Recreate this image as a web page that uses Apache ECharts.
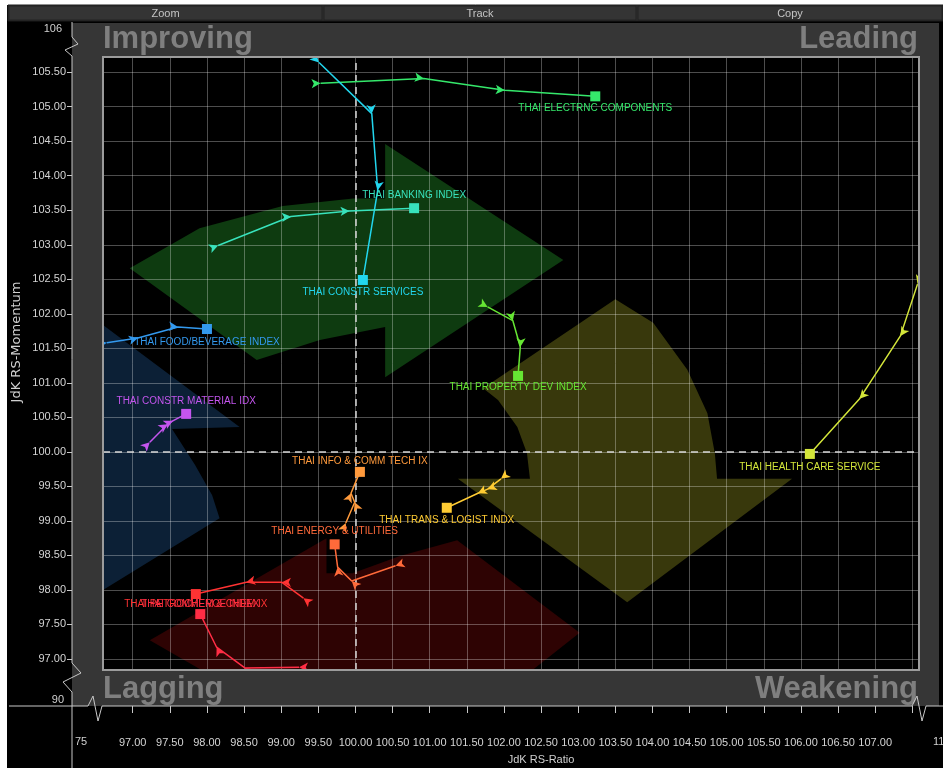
<!DOCTYPE html>
<html><head><meta charset="utf-8">
<script src="https://cdn.jsdelivr.net/npm/echarts@6/dist/echarts.min.js"></script>
<style>
html,body{margin:0;padding:0;background:#fff;overflow:hidden;}
#bg{position:absolute;left:7px;top:5px;width:936px;height:763px;background:#000;}
#c{position:absolute;left:0;top:0;width:943px;height:768px;}
</style></head><body>
<div id="bg"></div><div id="c"></div>
<script>
// ---- tick labels ----
const xTicks = [97,97.5,98,98.5,99,99.5,100,100.5,101,101.5,102,102.5,103,103.5,104,104.5,105,105.5,106,106.5,107,107.5];
const xLabels = [97,97.5,98,98.5,99,99.5,100,100.5,101,101.5,102,102.5,103,103.5,104,104.5,105,105.5,106,106.5,107];
const yTicks = [97,97.5,98,98.5,99,99.5,100,100.5,101,101.5,102,102.5,103,103.5,104,104.5,105,105.5];

// ---- series names ----
const names = ['THAI ELECTRNC COMPONENTS','THAI CONSTR SERVICES','THAI BANKING INDEX','THAI FOOD/BEVERAGE INDEX',
  'THAI CONSTR MATERIAL IDX','THAI PROPERTY DEV INDEX','THAI HEALTH CARE SERVICE','THAI INFO & COMM TECH IX',
  'THAI ENERGY & UTILITIES','THAI PETROCHEM & CHEM IX','THAI COMMERCE INDEX','THAI TRANS & LOGIST INDX'];

// ---- series values [RS-Ratio, RS-Momentum], oldest -> latest ----
const electrnc = [[99.53,105.34],[100.92,105.41],[102.01,105.24],[103.23,105.15]];
const constrServices = [[99.51,105.64],[100.22,104.90],[100.30,103.79],[100.10,102.49]];
const banking = [[98.15,102.99],[99.13,103.41],[99.92,103.49],[100.79,103.53]];
const foodBev = [[96.65,101.58],[97.07,101.65],[97.61,101.81],[98.00,101.78]];
const constrMaterial = [[97.23,100.14],[97.47,100.40],[97.54,100.45],[97.72,100.55]];
const propertyDev = [[101.78,102.10],[102.12,101.90],[102.22,101.52],[102.19,101.10]];
const healthCare = [[107.57,102.43],[107.34,101.68],[106.79,100.77],[106.12,99.97]];
const infoComm = [[99.87,98.97],[99.99,99.27],[99.94,99.40],[100.06,99.71]];
const energy = [[100.54,98.35],[99.95,98.13],[99.76,98.33],[99.72,98.66]];
const petrochem = [[99.30,97.88],[99.01,98.11],[98.53,98.11],[97.85,97.94]];
const commerce = [[99.24,96.88],[98.51,96.87],[98.13,97.17],[97.91,97.65]];
const transLogist = [[101.96,99.61],[101.78,99.46],[101.65,99.40],[101.23,99.19]];

// ---- background rotation arrows (data space) ----
const greenArrow = [[96.96,102.66],[97.90,103.24],[99.02,103.56],[99.97,103.67],[100.40,103.67],[100.40,104.46],[102.80,102.78],[100.40,101.08],[100.40,101.81],[99.52,101.62],[98.67,101.33]];
const yellowArrow = [[103.50,102.21],[104.01,101.87],[104.47,101.19],[104.74,100.56],[104.84,99.98],[104.87,99.61],[105.88,99.61],[103.66,97.82],[101.38,99.61],[102.35,99.61],[102.31,99.98],[102.18,100.36],[101.92,100.75],[101.72,100.92]];
const redArrow = [[103.02,97.38],[101.37,98.72],[100.60,98.49],[99.96,98.24],[99.61,98.24],[99.61,98.75],[97.23,97.27],[99.61,95.80],[99.61,95.90],[100.60,95.97],[102.22,96.70]];
const blueArrow = [[95.75,102.52],[98.44,100.36],[97.53,100.33],[97.84,99.81],[98.07,99.37],[98.17,99.04],[96.60,98.00],[95.75,97.43],[95.21,97.43],[95.21,102.52]];

// ---- styles ----
const NARROW = "'Liberation Sans',Arial,sans-serif";
const seriesValues = [electrnc,constrServices,banking,foodBev,constrMaterial,propertyDev,healthCare,infoComm,energy,petrochem,commerce,transLogist];
const colors = ['#35e86b','#22d6ee','#38e2bc','#3399ee','#c455ee','#66e633','#d4e63a','#ff9a3c','#ff6a3a','#ff3333','#ff2d45','#ffcc33'];
const labelPos = ['bottom','bottom','top','bottom','top','bottom','bottom','top','top','bottom','top','bottom'];
const labelDist = [2,2,3,3,3,1,3,1,3,0,0,2];
const arrowShapes = [greenArrow, yellowArrow, redArrow, blueArrow];
const arrowColors = ['#0e3b10','#38380c','#2e0303','#0c2036'];

const X_MIN=96.6, X_MAX=107.59, Y_MIN=96.84, Y_MAX=105.72;
const GL=103, GT=57, GR=919, GB=670;
const kx=(GR-GL)/(X_MAX-X_MIN), ky=(GB-GT)/(Y_MAX-Y_MIN);
function rot(a,b){const dx=(b[0]-a[0])*kx, dy=(b[1]-a[1])*ky;return Math.atan2(dy,dx)*180/Math.PI-90;}

const chart = echarts.init(document.getElementById('c'), null, {renderer:'canvas'});

const lineSeries = seriesValues.map((vals,si)=>({
  type:'line', name:names[si], silent:true, animation:false, z:5,
  emphasis:{disabled:true},
  lineStyle:{color:colors[si], width:1.5},
  itemStyle:{color:colors[si]},
  data: vals.map((p,i,arr)=> i<arr.length-1
    ? {value:p, symbol:'arrow', symbolSize:[7,9], symbolRotate:rot(p,arr[i+1])}
    : {value:p, symbol:'rect', symbolSize:10,
       label:{show:true, position:labelPos[si], distance:labelDist[si], formatter:names[si],
              color:colors[si], fontSize:10, fontFamily:NARROW}})
}));
lineSeries[0].markLine = {silent:true, symbol:'none', animation:false, label:{show:false},
  lineStyle:{color:'#d8d8d8', type:[7,5], width:1.5}, data:[{xAxis:100},{yAxis:100}]};

const gfx = [];
// toolbar
gfx.push({type:'rect', shape:{x:8,y:5,width:935,height:16}, style:{fill:'#2e2e2e', stroke:'#1c1c1c', lineWidth:1}, z:60});
[[8,323,'Zoom'],[323,637,'Track'],[637,943,'Copy']].forEach(b=>{
  gfx.push({type:'rect', shape:{x:b[0]+1,y:6,width:b[1]-b[0]-2,height:14}, style:{fill:'#343434', stroke:'#222', lineWidth:1}, z:61});
  gfx.push({type:'text', x:(b[0]+b[1])/2, y:13.5, style:{text:b[2], fill:'#c4c4c4', font:"11px "+NARROW, align:'center', verticalAlign:'middle'}, z:62});
});
// gray frame around plot
const FR='#363636';
gfx.push({type:'rect', shape:{x:72,y:23,width:867,height:GT-23}, style:{fill:FR}, z:50});
gfx.push({type:'rect', shape:{x:72,y:GB,width:867,height:706-GB}, style:{fill:FR}, z:50});
gfx.push({type:'rect', shape:{x:72,y:GT,width:GL-72,height:GB-GT}, style:{fill:FR}, z:50});
gfx.push({type:'rect', shape:{x:GR,y:GT,width:939-GR,height:GB-GT}, style:{fill:FR}, z:50});
gfx.push({type:'rect', shape:{x:GL,y:GT,width:GR-GL,height:GB-GT}, style:{fill:null, stroke:'#9c9c9c', lineWidth:2}, z:51});
// quadrant names
const QF = "bold 31px 'Liberation Sans',Arial,sans-serif";
gfx.push({type:'text', x:103, y:39, style:{text:'Improving', fill:'#7f7f7f', font:QF, align:'left', verticalAlign:'middle'}, z:52});
gfx.push({type:'text', x:918, y:39, style:{text:'Leading', fill:'#7f7f7f', font:QF, align:'right', verticalAlign:'middle'}, z:52});
gfx.push({type:'text', x:103, y:689, style:{text:'Lagging', fill:'#7f7f7f', font:QF, align:'left', verticalAlign:'middle'}, z:52});
gfx.push({type:'text', x:918, y:689, style:{text:'Weakening', fill:'#7f7f7f', font:QF, align:'right', verticalAlign:'middle'}, z:52});
// broken axis lines
gfx.push({type:'polyline', shape:{points:[[72,22],[72,37],[78,44],[65,50],[72,56],[72,663],[81,673],[63,682],[72,692],[72,768]]}, style:{stroke:'#c8c8c8', lineWidth:1, fill:null}, z:53});
gfx.push({type:'polyline', shape:{points:[[9,706],[88,706],[93,696],[98,721],[102,706],[912,706],[917,696],[922,721],[926,706],[943,706]]}, style:{stroke:'#c8c8c8', lineWidth:1, fill:null}, z:53});
const TF = "11px "+NARROW;
gfx.push({type:'text', x:62, y:29, style:{text:'106', fill:'#d0d0d0', font:TF, align:'right', verticalAlign:'middle'}, z:53});
gfx.push({type:'text', x:64, y:700, style:{text:'90', fill:'#d0d0d0', font:TF, align:'right', verticalAlign:'middle'}, z:53});
gfx.push({type:'text', x:75, y:742, style:{text:'75', fill:'#d0d0d0', font:TF, align:'left', verticalAlign:'middle'}, z:53});
gfx.push({type:'text', x:933, y:742, style:{text:'110', fill:'#d0d0d0', font:TF, align:'left', verticalAlign:'middle'}, z:53});
// axis titles
gfx.push({type:'text', x:541, y:760, style:{text:'JdK RS-Ratio', fill:'#d0d0d0', font:TF, align:'center', verticalAlign:'middle'}, z:53});
gfx.push({type:'text', x:17, y:342, rotation:Math.PI/2, style:{text:'JdK RS-Momentum', fill:'#d0d0d0', font:"13px 'DejaVu Sans',sans-serif", align:'center', verticalAlign:'middle'}, z:53});

const option = {
  backgroundColor:'transparent',
  animation:false,
  grid:{left:GL, top:GT, right:943-GR, bottom:768-GB, containLabel:false},
  xAxis:{type:'value', min:X_MIN, max:X_MAX, splitNumber:22, offset:706-GB, z:1,
    axisLine:{show:false},
    axisTick:{show:true, length:7, lineStyle:{color:'#c8c8c8'}, customValues:xTicks},
    axisLabel:{show:true, interval:0, hideOverlap:false, margin:31, color:'#d4d4d4', fontSize:11, fontFamily:NARROW, customValues:xLabels, formatter:v=>Number(v).toFixed(2)},
    splitLine:{show:true, lineStyle:{color:'rgba(255,255,255,0.3)', width:1}}},
  yAxis:{type:'value', min:Y_MIN, max:Y_MAX, splitNumber:18, offset:GL-72, z:1,
    axisLine:{show:false},
    axisTick:{show:true, length:5, lineStyle:{color:'#c8c8c8'}, customValues:yTicks},
    axisLabel:{show:true, interval:0, margin:6, color:'#d4d4d4', fontSize:11, fontFamily:NARROW, customValues:yTicks, formatter:v=>Number(v).toFixed(2)},
    splitLine:{show:true, lineStyle:{color:'rgba(255,255,255,0.3)', width:1}}},
  graphic:{elements:gfx},
  series:[{
    type:'custom', silent:true, z:0, animation:false,
    data: arrowShapes.map(()=>[100,100]),
    renderItem:(params, api)=>{
      const cs = params.coordSys;
      const pts = arrowShapes[params.dataIndex].map(p=>api.coord(p));
      return {type:'polygon', shape:{points:pts}, style:{fill:arrowColors[params.dataIndex]},
        clipPath:{type:'rect', shape:{x:cs.x, y:cs.y, width:cs.width, height:cs.height}}};
    }
  }].concat(lineSeries)
};
chart.setOption(option);
</script>
</body></html>
